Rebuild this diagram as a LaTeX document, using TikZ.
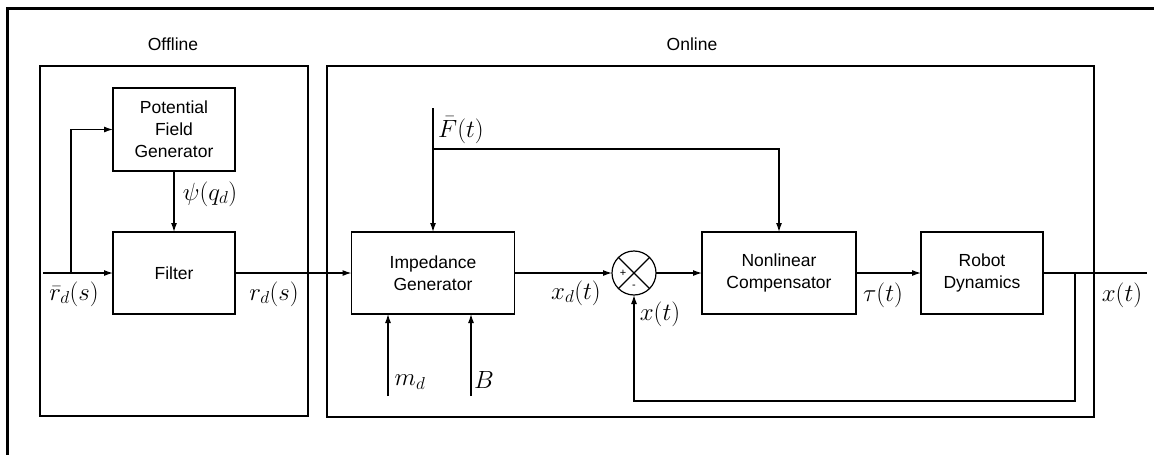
\documentclass[tikz,border=0pt]{standalone}
\usepackage{fontspec}
\setmainfont{Liberation Sans}
\usetikzlibrary{arrows.meta}
\begin{document}
\begin{tikzpicture}[x=1pt,y=-1pt,
  blk/.style={draw,line width=1.2pt,rectangle,inner sep=0pt,outer sep=0pt,align=center,font=\fontsize{17.5}{22}\selectfont},
  frame/.style={draw,line width=1.2pt},
  sig/.style={line width=1.2pt,-{Latex[length=9pt,width=6pt]}},
  wire/.style={line width=1.2pt},
  lbl/.style={inner sep=0pt,font=\fontsize{23}{26}\selectfont},
  ttl/.style={inner sep=0pt,font=\fontsize{17.5}{20}\selectfont}]
\useasboundingbox (0,0) rectangle (1154,455);
% outer frame
\draw[line width=3pt] (7,455) -- (7,8) -- (1154,8);
% group frames
\draw[frame] (40,66) rectangle (308,416);
\draw[frame] (327,66) rectangle (1094,417);
\node[ttl] (toff) at (173,44) {Offline};
\node[ttl] (ton) at (692,44) {Online};
% blocks
\node[blk,minimum width=122,minimum height=83] (pfg) at (174,129.5) {Potential\\Field\\Generator};
\node[blk,minimum width=122,minimum height=82] (filt) at (174,273) {Filter};
\node[blk,minimum width=163,minimum height=82] (ig) at (433,273) {Impedance\\Generator};
\node[blk,minimum width=154,minimum height=82] (nc) at (779,273) {Nonlinear\\Compensator};
\node[blk,minimum width=122,minimum height=82] (rd) at (982,273) {Robot\\Dynamics};
\node[draw,line width=1.2pt,circle,minimum size=44,inner sep=0pt,outer sep=0pt] (sum) at (634,273) {};
\draw[wire] (sum.north west) -- (sum.south east);
\draw[wire] (sum.north east) -- (sum.south west);
\node[inner sep=0pt,font=\fontsize{11}{12}\selectfont] (plus) at (623,273) {+};
\node[inner sep=0pt,font=\fontsize{11}{12}\selectfont] (minus) at (634,287) {-};
% coordinates
\coordinate (in) at (43,273);
\coordinate (br) at (71,273);
\coordinate (ftop) at (433,108);
\coordinate (fbr) at (433,149);
\coordinate (md) at (388,396);
\coordinate (bb) at (471,396);
\coordinate (out) at (1147,273);
\coordinate (fb) at (1075,273);
\coordinate (fbb) at (634,401);
% connectors
\draw[sig] (in) -- (filt.west);
\draw[sig] (br) |- (pfg.west);
\draw[sig] (pfg) -- (filt);
\draw[sig] (filt) -- (ig);
\draw[sig] (ftop) -- (ig.north);
\draw[sig] (fbr) -| (nc.north);
\draw[sig] (md) -- (md |- ig.south);
\draw[sig] (bb) -- (bb |- ig.south);
\draw[sig] (ig) -- (sum);
\draw[sig] (sum) -- (nc);
\draw[sig] (nc) -- (rd);
\draw[wire] (rd) -- (out);
\draw[sig] (fb) |- (fbb) -- (sum.south);
% labels
\node[lbl] (l1) at (74,294) {$\bar{r}_d(s)$};
\node[lbl] (l2) at (274,294) {$r_d(s)$};
\node[lbl] (l3) at (210,194) {$\psi(q_d)$};
\node[lbl,anchor=west] (l4) at (438,130) {$\bar{F}(t)$};
\node[lbl] (l5) at (576,293) {$x_d(t)$};
\node[lbl] (l6) at (660,314) {$x(t)$};
\node[lbl] (l7) at (410,382) {$m_d$};
\node[lbl] (l8) at (484,380) {$B$};
\node[lbl] (l9) at (883,295) {$\tau(t)$};
\node[lbl] (l10) at (1122,295) {$x(t)$};
\end{tikzpicture}
\end{document}
